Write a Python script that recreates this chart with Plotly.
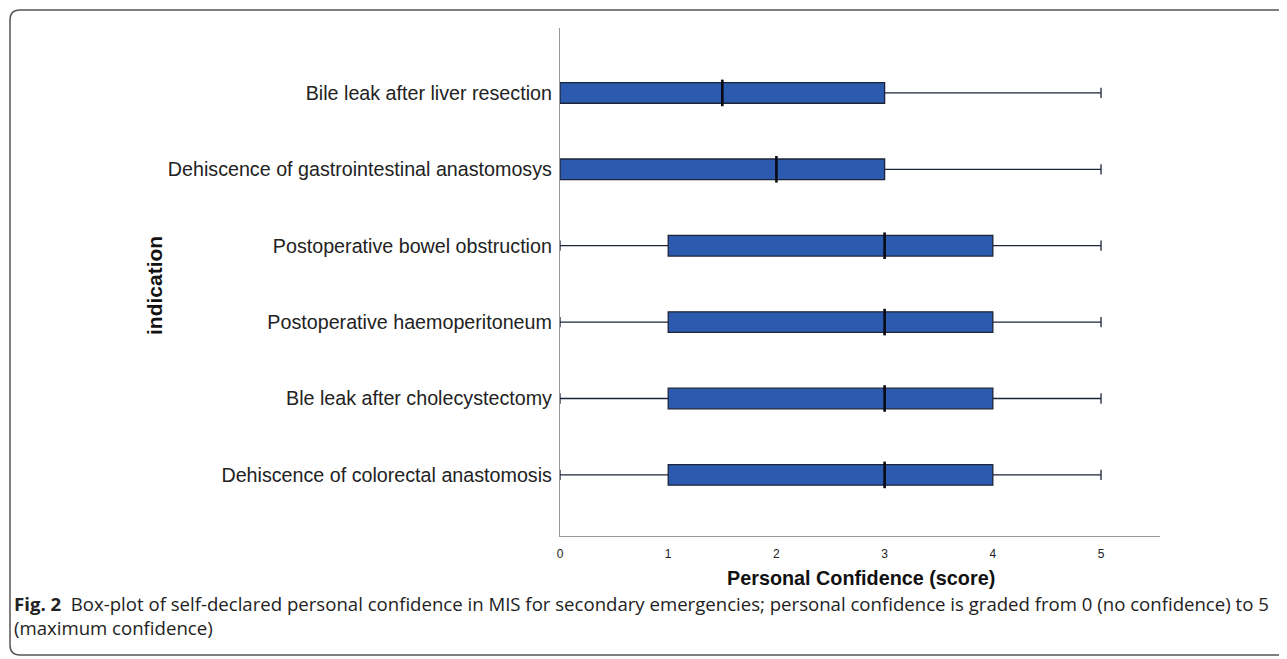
import plotly.graph_objects as go

categories = [
    "Bile leak after liver resection",
    "Dehiscence of gastrointestinal anastomosys",
    "Postoperative bowel obstruction",
    "Postoperative haemoperitoneum",
    "Ble leak after cholecystectomy",
    "Dehiscence of colorectal anastomosis",
]
lower = [0, 0, 0, 0, 0, 0]
q1 = [0, 0, 1, 1, 1, 1]
median = [1.5, 2, 3, 3, 3, 3]
q3 = [3, 3, 4, 4, 4, 4]
upper = [5, 5, 5, 5, 5, 5]
x_ticks = [0, 1, 2, 3, 4, 5]

OFF = 8  # page body margin
W, H = 1287 - OFF, 659 - OFF
# plot area in reference-screenshot pixels
RL, RR, RT, RB = 560, 1160, 28, 536
L, R, T, B = RL - OFF, RR - OFF, RT - OFF, RB - OFF

def px_x(p):  # reference pixel -> paper
    return (p - RL) / (RR - RL)

def px_y(p):
    return (RB - p) / (RB - RT)

fig = go.Figure()
fig.add_trace(go.Box(
    y=categories, q1=q1, median=median, q3=q3,
    lowerfence=lower, upperfence=upper,
    orientation="h", width=0.27, whiskerwidth=0.5,
    fillcolor="#2C5AAE", line=dict(color="#1C2438", width=1.3),
    boxpoints=False, hoverinfo="skip", showlegend=False,
))
fig.add_trace(go.Scatter(
    x=median, y=categories, mode="markers",
    marker=dict(symbol="line-ns", size=19, line=dict(color="#0A0A14", width=2.6)),
    hoverinfo="skip", showlegend=False,
))

fig.update_layout(
    width=W, height=H,
    margin=dict(l=L, r=W - R, t=T, b=H - B),
    paper_bgcolor="white", plot_bgcolor="white",
    font=dict(family="Liberation Sans, Arial, sans-serif", color="#222"),
    xaxis=dict(range=[0, 5.545], tickvals=x_ticks, showgrid=False, zeroline=False,
               showline=True, linecolor="#999", linewidth=1.3, ticks="",
               tickfont=dict(size=12, color="#222"), ticklabelstandoff=6),
    yaxis=dict(categoryorder="array", categoryarray=categories, range=[5.8, -0.85],
               showgrid=False, zeroline=False, showline=True, linecolor="#999",
               linewidth=1.3, ticks="", tickfont=dict(size=19.7, color="#222"),
               ticklabelstandoff=3),
)

fig.add_annotation(text="<b>Personal Confidence (score)</b>", xref="paper", yref="paper",
                   x=px_x(861), y=px_y(578), xanchor="center", yanchor="middle",
                   showarrow=False, font=dict(size=19.8, color="#111"))
fig.add_annotation(text="<b>indication</b>", xref="paper", yref="paper",
                   x=px_x(154), y=px_y(286), xanchor="center", yanchor="middle",
                   textangle=-90, showarrow=False, font=dict(size=21, color="#111"))
fig.add_annotation(
    text="<b>Fig. 2</b>  Box-plot of self-declared personal confidence in MIS for secondary emergencies; "
         "personal confidence is graded from 0 (no confidence) to 5<br>(maximum confidence)",
    xref="paper", yref="paper", x=px_x(12), y=px_y(589), xanchor="left", yanchor="top",
    align="left", showarrow=False,
    font=dict(size=18.6, color="#222", family="Open Sans, sans-serif"))

# rounded frame
x0, x1 = px_x(10), px_x(1310)
y0, y1 = px_y(10), px_y(655)
rx, ry = 10 / (RR - RL), 10 / (RB - RT)
path = (f"M {x1},{y0} L {x0 + rx},{y0} Q {x0},{y0} {x0},{y0 - ry} "
        f"L {x0},{y1 + ry} Q {x0},{y1} {x0 + rx},{y1} L {x1},{y1}")
fig.add_shape(type="path", path=path, xref="paper", yref="paper",
              line=dict(color="#555", width=1.5))

fig.write_html("out.html")
